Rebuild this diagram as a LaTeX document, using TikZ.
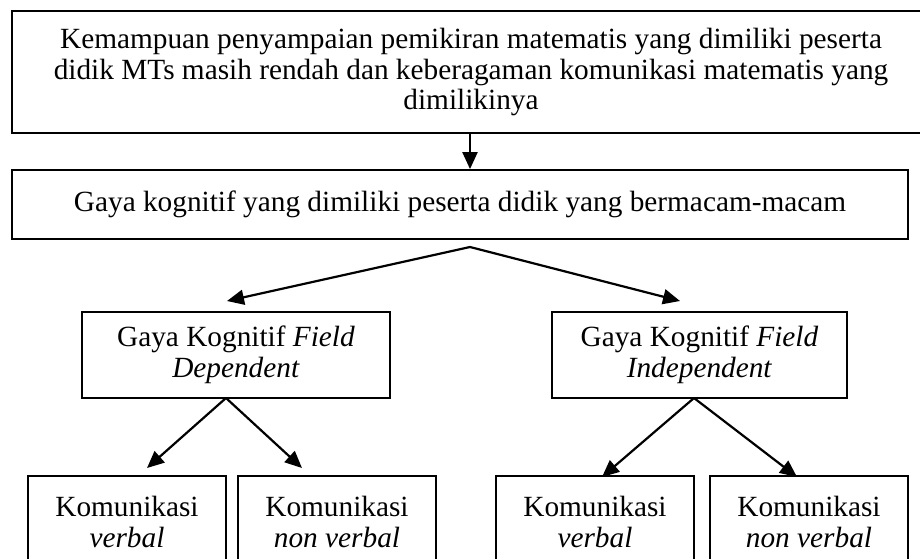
\documentclass[tikz,border=0pt]{standalone}
\usepackage{fontspec}
\setmainfont{Liberation Serif}
\usetikzlibrary{arrows.meta}
\begin{document}
\begin{tikzpicture}[x=1pt,y=-1pt,
  box/.style={draw=black,line width=1.8pt,rectangle,inner sep=0pt,align=center,
    font=\fontsize{29.3}{30.5}\selectfont},
  conn/.style={line width=2.2pt,-{Triangle[length=17pt,width=15pt]}}]
\clip (0,0) rectangle (920,558);
\fill[white] (0,0) rectangle (920,558);
\node[box,minimum width=918,minimum height=122] (top) at (471,72)
  {Kemampuan penyampaian pemikiran matematis yang dimiliki peserta\\
   didik MTs masih rendah dan keberagaman komunikasi matematis yang\\
   dimilikinya};
\node[box,minimum width=896,minimum height=69] (gaya) at (460,204.5)
  {Gaya kognitif yang dimiliki peserta didik yang bermacam-macam};
\node[box,minimum width=308,minimum height=86] (fd) at (236,355)
  {Gaya Kognitif \textit{Field}\\ \textit{Dependent}};
\node[box,minimum width=295,minimum height=86] (fi) at (699.5,355)
  {Gaya Kognitif \textit{Field}\\ \textit{Independent}};
\node[box,minimum width=198,minimum height=92] (b1) at (127,522)
  {Komunikasi\\ \textit{verbal}};
\node[box,minimum width=198,minimum height=92] (b2) at (337,522)
  {Komunikasi\\ \textit{non verbal}};
\node[box,minimum width=198,minimum height=92] (b3) at (595,522)
  {Komunikasi\\ \textit{verbal}};
\node[box,minimum width=198,minimum height=92] (b4) at (809,522)
  {Komunikasi\\ \textit{non verbal}};
\coordinate (split) at (470,247);
\coordinate (fdb) at (226,398);
\coordinate (fib) at (694,398);
\draw[conn] (top.south -| split) -- (gaya.north -| split);
\draw[conn] (split) -- (227,301);
\draw[conn] (split) -- (680,301);
\draw[conn] (fdb) -- (147,468);
\draw[conn] (fdb) -- (302,468);
\draw[conn] (fib) -- (602,477);
\draw[conn] (fib) -- (797,477);
\end{tikzpicture}
\end{document}
